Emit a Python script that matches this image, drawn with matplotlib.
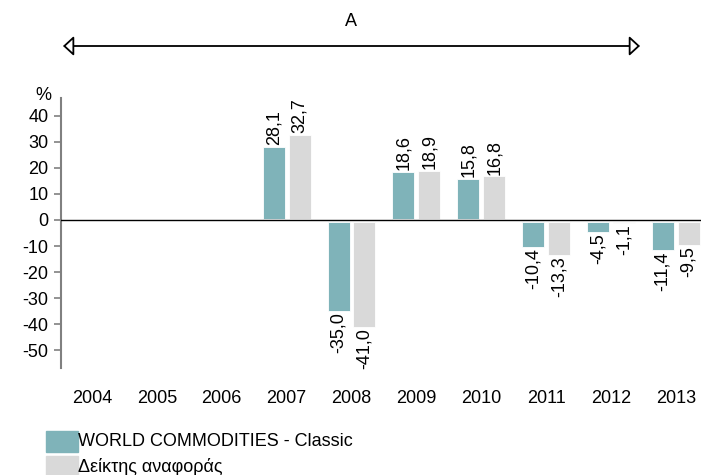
import matplotlib
matplotlib.use("Agg")
import matplotlib.pyplot as plt
import numpy as np
from matplotlib.patches import FancyArrowPatch, Rectangle

plt.rcParams["font.family"] = ["Liberation Sans", "DejaVu Sans"]

# ── Data ──────────────────────────────────────────────────────────────────────
years     = ["2004", "2005", "2006", "2007", "2008", "2009", "2010", "2011", "2012", "2013"]
fund      = [None, None, None, 28.1, -35.0, 18.6, 15.8, -10.4, -4.5, -11.4]
benchmark = [None, None, None, 32.7, -41.0, 18.9, 16.8, -13.3, -1.1, -9.5]
fund_name  = "WORLD COMMODITIES - Classic"
bench_name = "Δείκτης αναφοράς"
yticks = [40, 30, 20, 10, 0, -10, -20, -30, -40, -50]

TEAL = "#7FB3B9"
GREY = "#D9D9D9"
FS = 13

W, H = 701, 475
fig = plt.figure(figsize=(W / 100, H / 100), dpi=100)
ax = fig.add_axes([61 / W, 1 - 368 / H, 1 - 61 / W, (368 - 98) / H])

x = np.arange(len(years))
w, off = 0.34, 0.20


def fmt(v):
    return f"{v:.1f}".replace(".", ",")


for i, (f, b) in enumerate(zip(fund, benchmark)):
    for v, dx, col in ((f, -off, TEAL), (b, off, GREY)):
        if v is None:
            continue
        # negative bars hang a hair below the zero line, as in the source
        start = 0.2 if v > 0 else -0.8
        ax.bar(x[i] + dx, v - start, w, bottom=start, color=col,
               edgecolor="white", linewidth=0.6, zorder=2)
        if v > 0:
            ax.text(x[i] + dx, v + 0.6, fmt(v), rotation=90, ha="center",
                    va="bottom", fontsize=FS)
        else:
            ax.text(x[i] + dx, v - 0.6, fmt(v), rotation=90, ha="center",
                    va="top", fontsize=FS)

ax.axhline(0, color="black", lw=1.0, zorder=3)
ax.set_xlim(-0.48, 9.39)
ax.set_ylim(-56.9, 46.9)
ax.set_yticks(yticks)
ax.set_yticklabels([str(t) for t in yticks], fontsize=FS)
ax.tick_params(axis="y", direction="out", length=5, width=1.2, color="#808080", pad=4)
ax.set_xticks([])
for s in ("top", "right", "bottom"):
    ax.spines[s].set_visible(False)
ax.spines["left"].set_color("#808080")
ax.spines["left"].set_linewidth(1.5)

# year labels under the plot
for i, yr in enumerate(years):
    ax.text(x[i], -68.5, yr, ha="center", va="center", fontsize=FS, clip_on=False)

fig.text(43 / W, 1 - 95 / H, "%", ha="center", va="center", fontsize=FS)

# period arrow "A"
arr = FancyArrowPatch((63 / W, 1 - 46 / H), (640 / W, 1 - 46 / H),
                      transform=fig.transFigure,
                      arrowstyle="<|-|>,head_length=6.5,head_width=6",
                      shrinkA=0, shrinkB=0, fc="white", ec="black", lw=1.3)
fig.add_artist(arr)
fig.text(351 / W, 1 - 22 / H, "A", ha="center", va="center", fontsize=FS)

# legend
for y0, col, lab in ((431, TEAL, fund_name), (456, GREY, bench_name)):
    fig.add_artist(Rectangle((46 / W, 1 - (y0 + 21) / H), 32 / W, 21 / H,
                             transform=fig.transFigure, color=col))
    fig.text(78 / W, 1 - (y0 + 11) / H, lab, ha="left", va="center", fontsize=FS)

fig.savefig("out.png", dpi=100)
